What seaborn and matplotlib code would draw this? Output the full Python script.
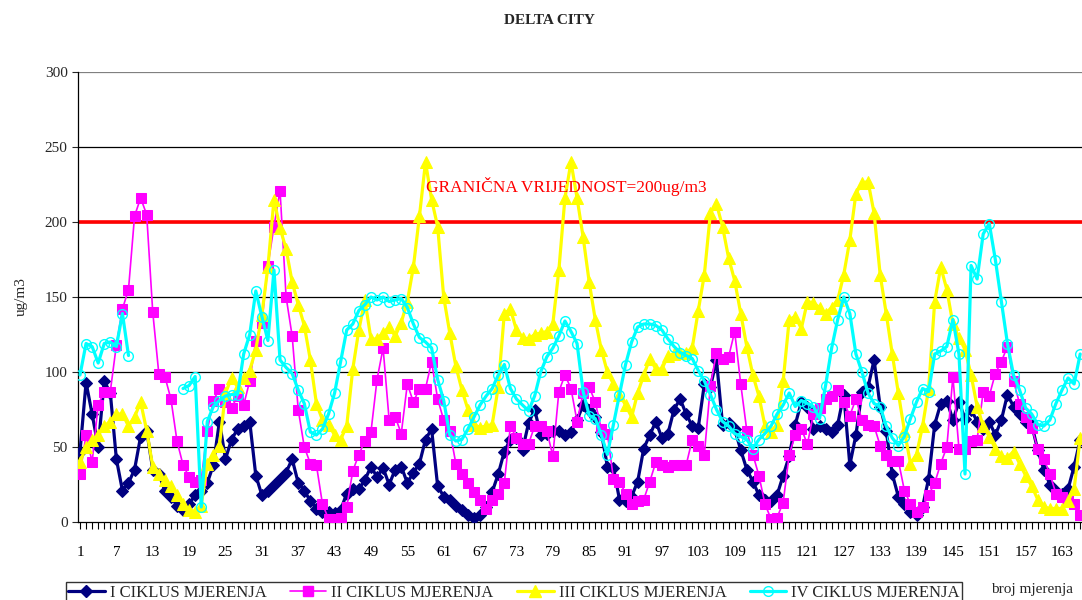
import numpy as np
import pandas as pd
import seaborn as sns
import matplotlib.pyplot as plt
from matplotlib.lines import Line2D
from matplotlib.ticker import MultipleLocator

nan = np.nan

# measurement cycles, index 1..166
ciklus_1 = [47, 93, 72, 50, 94, 86, 42, 21, 26, 35, 57, 61, 35, 32, 21, 17, 11, 8, 12, 18,
            21, 26, 38, 67, 42, 55, 62, 64, 67, 31, 18, 21, 25, 29, 33, 42, 26, 21, 14, 9,
            7, 7, 6, 8, 19, 22, 22, 28, 37, 30, 36, 25, 35, 37, 26, 33, 39, 55, 62, 24,
            17, 15, 11, 8, 5, 3, 5, 10, 20, 32, 47, 55, 56, 48, 66, 75, 58, 59, 61, 61,
            58, 60, 68, 78, 75, 70, 60, 37, 36, 15, 14, 17, 27, 49, 58, 67, 56, 59, 75, 82,
            72, 64, 63, 92, 90, 108, 65, 66, 62, 48, 35, 27, 18, 15, 14, 18, 31, 44, 65, 80,
            77, 62, 64, 62, 60, 65, 85, 38, 58, 87, 90, 108, 77, 61, 32, 17, 12, 7, 5, 10,
            29, 65, 79, 81, 68, 80, 69, 75, 67, 62, 67, 58, 68, 85, 77, 72, 67, 65, 48, 35,
            25, 21, 19, 22, 37, 55]

ciklus_2 = [32, 58, 40, 78, 87, 87, 118, 142, 155, 204, 216, 205, 140, 99, 97, 82, 54, 38, 30, 27,
            28, 61, 81, 89, 80, 76, 84, 78, 94, 121, 133, 171, 197, 221, 150, 124, 75, 50, 39, 38,
            12, 2, 2, 3, 10, 34, 45, 54, 60, 95, 116, 68, 70, 59, 92, 80, 89, 89, 107, 82,
            68, 61, 39, 32, 26, 20, 15, 9, 15, 19, 26, 64, 56, 52, 52, 64, 64, 61, 44, 87,
            98, 89, 67, 86, 90, 80, 62, 59, 29, 27, 19, 12, 14, 15, 27, 40, 38, 37, 38, 38,
            38, 55, 51, 45, 91, 113, 109, 110, 127, 92, 61, 45, 31, 12, 2, 3, 13, 45, 58, 62,
            52, 72, 76, 82, 84, 88, 80, 71, 82, 68, 65, 64, 51, 45, 41, 41, 21, 12, 7, 10,
            18, 26, 39, 50, 97, 49, 49, 54, 55, 87, 84, 99, 107, 117, 94, 79, 70, 63, 49, 42,
            32, 19, 17, 15, 12, 5]

ciklus_3 = [40, 50, 55, 58, 64, 67, 72, 72, 64, 70, 80, 61, 37, 32, 28, 24, 18, 12, 8, 7,
            11, 39, 45, 51, 86, 96, 90, 96, 101, 115, 138, 170, 215, 196, 182, 160, 145, 131, 108, 79,
            68, 65, 58, 55, 64, 102, 128, 148, 122, 122, 126, 130, 124, 133, 147, 170, 204, 240, 215, 197,
            150, 126, 104, 88, 75, 65, 63, 64, 65, 90, 139, 142, 128, 123, 122, 125, 126, 127, 132, 168,
            216, 240, 216, 190, 160, 135, 115, 100, 92, 85, 78, 70, 86, 98, 109, 102, 102, 111, 112, 113,
            113, 116, 141, 165, 206, 212, 197, 176, 161, 139, 117, 98, 84, 64, 60, 65, 94, 135, 137, 129,
            147, 146, 143, 139, 143, 148, 165, 188, 219, 226, 227, 206, 165, 139, 112, 86, 61, 39, 45, 64,
            89, 147, 170, 155, 132, 123, 115, 98, 77, 64, 57, 49, 44, 43, 47, 39, 31, 24, 15, 10,
            9, 9, 9, 14, 22, 56]

ciklus_4 = [98, 119, 117, 106, 119, 120, 117, 139, 111, nan, nan, nan, nan, nan, nan, nan, nan, 89, 91, 97,
            10, 67, 77, 81, 84, 85, 85, 112, 125, 154, 137, 121, 168, 108, 103, 99, 88, 79, 60, 58,
            62, 72, 86, 107, 128, 132, 141, 145, 150, 148, 150, 147, 148, 149, 143, 132, 123, 120, 116, 95,
            81, 58, 54, 55, 62, 70, 78, 84, 89, 98, 105, 89, 82, 78, 74, 84, 100, 110, 116, 124,
            134, 127, 119, 87, 71, 69, 58, 45, 65, 85, 105, 120, 130, 132, 132, 131, 128, 122, 117, 113,
            111, 109, 101, 94, 85, 75, 67, 64, 59, 57, 55, 49, 55, 59, 64, 72, 78, 86, 77, 81,
            79, 77, 69, 91, 116, 135, 150, 139, 112, 100, 86, 79, 77, 64, 56, 51, 57, 69, 80, 89,
            87, 112, 114, 117, 135, 112, 32, 171, 162, 192, 199, 175, 147, 119, 98, 88, 76, 72, 65, 64,
            68, 79, 88, 96, 92, 112]

mjerenje = np.arange(1, len(ciklus_1) + 1)
granica = 200
nazivi = ["I CIKLUS MJERENJA", "II CIKLUS MJERENJA", "III CIKLUS MJERENJA", "IV CIKLUS MJERENJA"]

sns.set_style("ticks")
plt.rcParams['font.family'] = ['Liberation Serif', 'DejaVu Serif']

fig = plt.figure(figsize=(10.82, 6.0), dpi=100)
ax = fig.add_axes([78 / 1082, 78 / 600, 1 - 78 / 1082, 450 / 600])

# gridlines and limit line
for v in range(50, 300, 50):
    ax.axhline(v, color="black", lw=0.9, zorder=0)
ax.axhline(300, color="#808080", lw=0.9, zorder=0)
ax.axhline(granica, color="red", lw=2.6, zorder=1)

stilovi = [
    dict(color="#000080", lw=2.3, marker="D", markersize=6.5, markeredgecolor="#000080"),
    dict(color="#FF00FF", lw=1.2, marker="s", markersize=6.5, markeredgecolor="#FF00FF"),
    dict(color="#FFFF00", lw=2.3, marker="^", markersize=8.5, markeredgecolor="#FFFF00"),
    dict(color="#00FFFF", lw=2.3, marker="o", markersize=7, markerfacecolor="none",
         markeredgecolor="#00FFFF", markeredgewidth=1.0),
]

sns.lineplot(x=mjerenje, y=ciklus_1, ax=ax, zorder=3, **stilovi[0])
sns.lineplot(x=mjerenje, y=ciklus_2, ax=ax, zorder=3, **stilovi[1])
sns.lineplot(x=mjerenje, y=ciklus_3, ax=ax, zorder=3, **stilovi[2])
# IV has a gap, draw the pieces as separate units
c4 = pd.DataFrame({"x": mjerenje, "y": ciklus_4})
c4["seg"] = c4["y"].isna().cumsum()
c4 = c4.dropna()
sns.lineplot(data=c4, x="x", y="y", units="seg", estimator=None, ax=ax, zorder=3,
             legend=False, **stilovi[3])

ax.text(81.2, 224, "GRANIČNA VRIJEDNOST=200ug/m3", color="red", fontsize=12.5,
        ha="center", va="center")

ax.set_xlim(0.67, 166.3)
ax.set_ylim(0, 300)
ax.set_yticks(range(0, 301, 50))
ax.set_xticks(range(1, 167, 6))
ax.xaxis.set_minor_locator(MultipleLocator(1))
ax.tick_params(axis="x", which="both", length=5, width=0.8, colors="black", labelsize=11, pad=12)
ax.tick_params(axis="y", length=4, width=0.8, labelsize=11)
ax.set_xlabel("")
ax.set_ylabel("ug/m3", fontsize=11, labelpad=12)
for side in ["top", "right"]:
    ax.spines[side].set_visible(False)
for side in ["left", "bottom"]:
    ax.spines[side].set_color("black")
    ax.spines[side].set_linewidth(0.9)

fig.text(0.508, 0.965, "DELTA CITY", fontsize=11, fontweight="bold", ha="center", va="center")
fig.text(1032 / 1082, 1 - 589 / 600, "broj mjerenja", fontsize=11, ha="center", va="center")

ruke = [Line2D([], [], **s) for s in stilovi]
leg = fig.legend(ruke, nazivi, loc="upper center", bbox_to_anchor=(514 / 1082, 1 - 574 / 600),
                 ncol=4, frameon=True, fancybox=False, edgecolor="black", fontsize=12,
                 handlelength=2.2, columnspacing=1.4, handletextpad=0.3, borderpad=0.15)
leg.get_frame().set_linewidth(1.0)

plt.savefig("out.png", dpi=100)
